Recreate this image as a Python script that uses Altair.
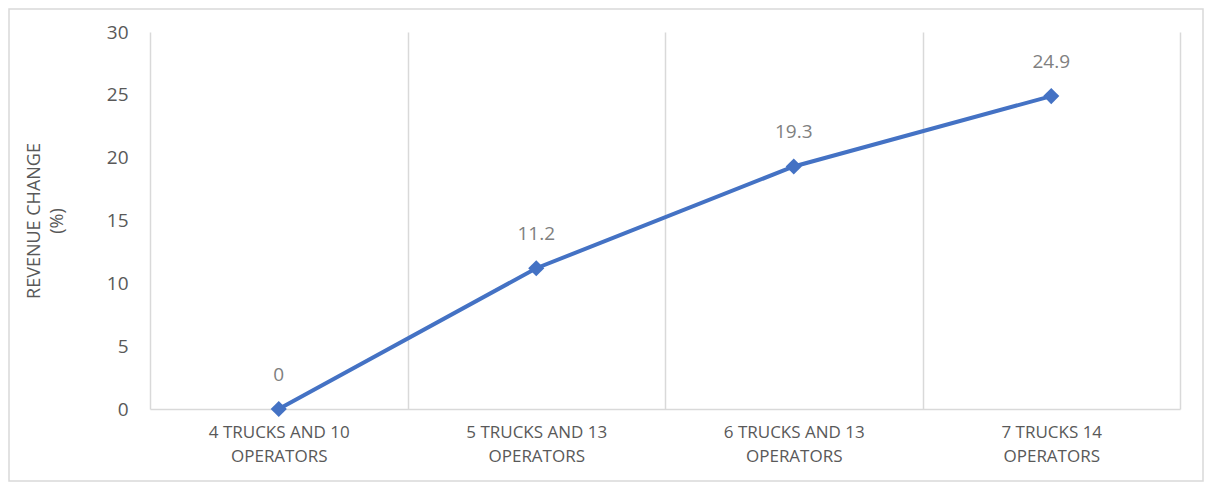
import altair as alt
import pandas as pd

categories = ["4 TRUCKS AND 10 OPERATORS", "5 TRUCKS AND 13 OPERATORS",
              "6 TRUCKS AND 13 OPERATORS", "7 TRUCKS 14 OPERATORS"]
revenue_change = [0, 11.2, 19.3, 24.9]
y_ticks = [0, 5, 10, 15, 20, 25, 30]

df = pd.DataFrame({"cat": categories, "val": revenue_change})

W, H = 1030, 377
FONT = "Open Sans"
GRID = "#d9d9d9"
BLUE = "#4472C4"

x_enc = alt.X("cat:N", sort=categories, title=None,
              scale=alt.Scale(paddingInner=0, paddingOuter=0),
              axis=alt.Axis(labelAngle=0, labelFontSize=17, labelFont=FONT,
                            labelColor="#595959", labelPadding=15,
                            labelLineHeight=24, labelBaseline="top",
                            labelExpr="datum.label ? [replace(datum.label, ' OPERATORS', ''), 'OPERATORS'] : ''",
                            ticks=False, grid=True, tickBand="extent",
                            gridColor=GRID, gridWidth=1.5,
                            domainColor=GRID, domainWidth=1.5))

y_enc = alt.Y("val:Q",
              scale=alt.Scale(domain=[0, 30], nice=False),
              axis=alt.Axis(values=y_ticks, grid=False, domain=False, ticks=False,
                            labelFontSize=19, labelFont=FONT, labelColor="#595959",
                            labelPadding=22,
                            title=["REVENUE CHANGE", "(%)"],
                            titleFont=FONT, titleFontSize=18, titleFontWeight="normal",
                            titleColor="#595959", titlePadding=40,
                            titleLineHeight=23))

line = alt.Chart(df).mark_line(color=BLUE, strokeWidth=4).encode(x=x_enc, y=y_enc)
pts = alt.Chart(df).mark_point(shape="diamond", filled=True, size=260, color=BLUE,
                               opacity=1).encode(x=alt.X("cat:N", sort=categories), y="val:Q")
labels = alt.Chart(df).mark_text(dy=-34, fontSize=19, font=FONT, color="#808080",
                                 baseline="middle").encode(
    x=alt.X("cat:N", sort=categories), y="val:Q", text="val:Q")
border = alt.Chart(df.head(1)).mark_rect(fill=None, stroke=GRID, strokeWidth=1.5).encode(
    x=alt.value(-141), x2=alt.value(W + 23), y=alt.value(-23), y2=alt.value(H + 72))

chart = alt.layer(border, line, pts, labels).properties(
    width=W, height=H,
    autosize=alt.AutoSizeParams(type="none"),
    padding={"left": 142, "top": 24, "right": 24, "bottom": 73},
    background="white",
).configure_view(stroke=None)

chart.save("out.html", embed_options={"renderer": "svg", "actions": False})
